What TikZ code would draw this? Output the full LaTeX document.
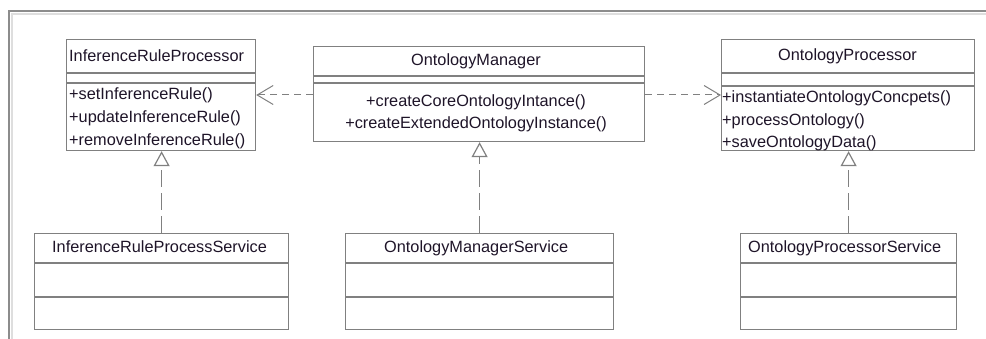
\documentclass[tikz,border=0pt]{standalone}
\usepackage{fontspec}
\setmainfont{Liberation Sans}
\usepackage{xcolor}
\usepackage{tikz}
\usetikzlibrary{arrows.meta}

\definecolor{umlline}{RGB}{128,128,128}
\definecolor{umltext}{RGB}{30,20,40}
\definecolor{framedark}{RGB}{140,140,140}
\definecolor{framelight}{RGB}{222,222,222}

\tikzset{
  classbox/.style={draw=umlline, line width=1.2pt, rectangle, inner sep=0pt, anchor=north west},
  partline/.style={draw=umlline, line width=1.2pt},
  classname/.style={text=umltext, inner sep=0pt, anchor=base},
  member/.style={text=umltext, inner sep=0pt, anchor=base west},
  depend/.style={draw=umlline, line width=1pt, dash pattern=on 7pt off 5pt,
    -{Straight Barb[length=16pt, width=19pt, line width=1pt]}},
  realize/.style={draw=umlline, line width=1pt, dash pattern=on 17pt off 6pt,
    -{Triangle[open, length=15pt, width=16pt, line width=1.2pt]}}
}

\begin{document}
\begin{tikzpicture}[x=1pt, y=-1pt, font=\fontsize{16.3}{22.8}\selectfont]
      \useasboundingbox (0,0) rectangle (986,339);
      % frame
      \draw[framelight, line width=1.5pt] (986,14) -- (12,14) -- (12,339);
      \draw[framedark, line width=1.8pt] (986,11) -- (9,11) -- (9,339);

      % InferenceRuleProcessor
      \node[classbox, minimum width=189pt, minimum height=111pt] (irp) at (66,39) {};
      \draw[partline] (66,73) -- (255,73);
      \draw[partline] (66,83) -- (255,83);
      \node[member] (irpname) at (69,62) {InferenceRuleProcessor};
      \node[member] (irpset) at (69,100) {+setInferenceRule()};
      \node[member] (irpupdate) at (69,123) {+updateInferenceRule()};
      \node[member] (irpremove) at (69,146) {+removeInferenceRule()};

      % OntologyManager
      \node[classbox, minimum width=331pt, minimum height=95pt] (om) at (313,46) {};
      \draw[partline] (313,76) -- (644,76);
      \draw[partline] (313,83) -- (644,83);
      \node[classname] (omname) at (476,66) {OntologyManager};
      \node[classname] (omcore) at (476,107) {+createCoreOntologyIntance()};
      \node[classname] (omext) at (476,129) {+createExtendedOntologyInstance()};

      % OntologyProcessor
      \node[classbox, minimum width=253pt, minimum height=111pt] (op) at (721,39) {};
      \draw[partline] (721,73) -- (974,73);
      \draw[partline] (721,86) -- (974,86);
      \node[classname] (opname) at (847.5,61) {OntologyProcessor};
      \node[member] (opinst) at (722,103) {+instantiateOntologyConcpets()};
      \node[member] (opproc) at (722,126) {+processOntology()};
      \node[member] (opsave) at (722,148) {+saveOntologyData()};

      % services
      \node[classbox, minimum width=254pt, minimum height=96pt] (irps) at (34,233) {};
      \draw[partline] (34,263) -- (288,263);
      \draw[partline] (34,297) -- (288,297);
      \node[member] (irpsname) at (52,253) {InferenceRuleProcessService};

      \node[classbox, minimum width=268pt, minimum height=96pt] (oms) at (345,233) {};
      \draw[partline] (345,263) -- (613,263);
      \draw[partline] (345,297) -- (613,297);
      \node[member] (omsname) at (384,253) {OntologyManagerService};

      \node[classbox, minimum width=216pt, minimum height=96pt] (ops) at (740,233) {};
      \draw[partline] (740,263) -- (956,263);
      \draw[partline] (740,297) -- (956,297);
      \node[member] (opsname) at (748,253) {OntologyProcessorService};

      % dependencies
      \coordinate (depy) at (0,95);
      \draw[depend] (om.west |- depy) -- (irp.east |- depy);
      \draw[depend] (om.east |- depy) -- (op.west |- depy);

      % realizations
      \draw[realize] (irps.north) -- (irps.north |- irp.south);
      \draw[realize] (oms.north) -- (oms.north |- om.south);
      \draw[realize] (ops.north) -- (ops.north |- op.south);
    \end{tikzpicture}
\end{document}
